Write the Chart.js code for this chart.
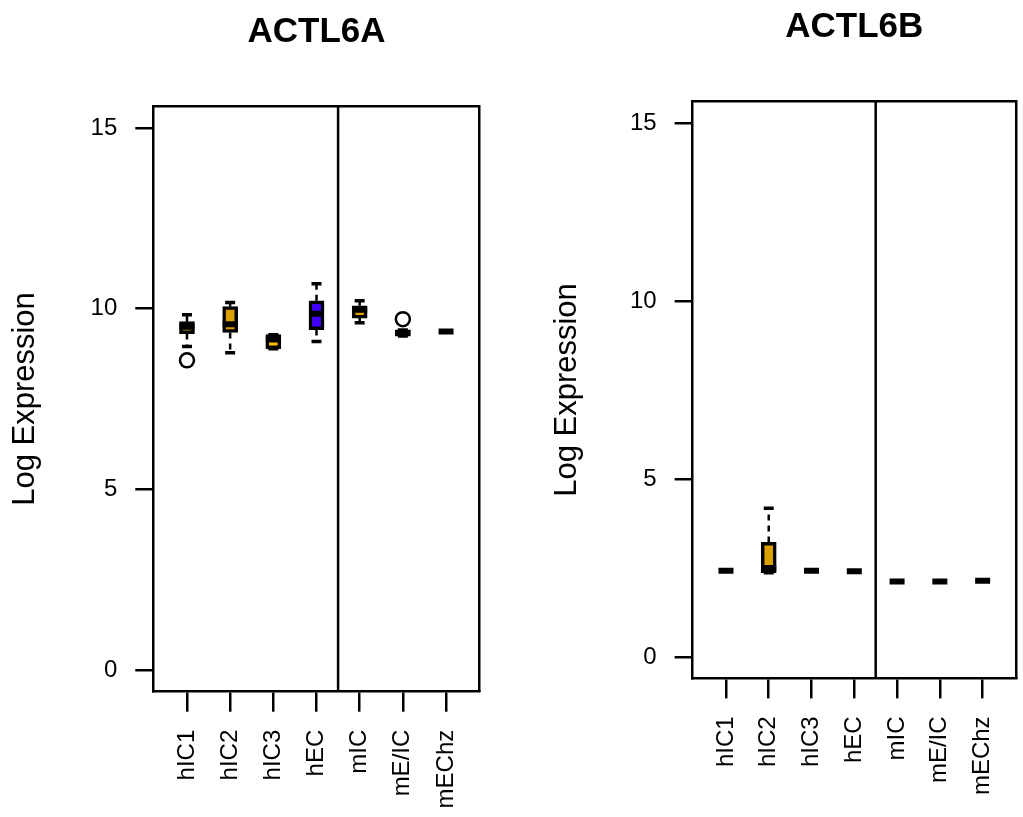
<!DOCTYPE html>
<html>
<head>
<meta charset="utf-8">
<title>ACTL6A / ACTL6B</title>
<script src="https://cdn.jsdelivr.net/npm/chart.js@4.4.1/dist/chart.umd.min.js"></script>
<style>
  html, body { margin: 0; background: #fff; overflow: hidden; }
  canvas { position: absolute; top: 0; }
</style>
</head>
<body>
<canvas id="chartA" width="500" height="817" style="left:0px"></canvas>
<canvas id="chartB" width="540" height="817" style="left:500px"></canvas>
<script>
// groups and box colours
const groups = ["hIC1", "hIC2", "hIC3", "hEC", "mIC", "mE/IC", "mEChz"];
const boxColors = ["#B8960B", "#DAA000", "#FFBF00", "#3F00FF", "#E0A000", "#8B7500", "#8B7500"];
const yTicks = [0, 5, 10, 15];
const splitAt = 4.5; // human | mouse

// ACTL6A
const aLo  = [8.95, 8.78, 8.89, 9.09, 9.61, 9.24, 9.37];
const aQ1  = [9.31, 9.34, 8.89, 9.42, 9.74, 9.24, 9.37];
const aMed = [9.50, 9.57, 9.15, 9.86, 9.97, 9.33, 9.37];
const aQ3  = [9.64, 10.06, 9.28, 10.22, 10.08, 9.41, 9.37];
const aHi  = [9.83, 10.17, 9.28, 10.69, 10.22, 9.41, 9.37];
const aOut = [[1, 8.57], [6, 9.71]];

// ACTL6B
const bLo  = [2.42, 2.37, 2.42, 2.41, 2.12, 2.12, 2.14];
const bQ1  = [2.42, 2.37, 2.42, 2.41, 2.12, 2.12, 2.14];
const bMed = [2.42, 2.50, 2.42, 2.41, 2.12, 2.12, 2.14];
const bQ3  = [2.42, 3.22, 2.42, 2.41, 2.12, 2.12, 2.14];
const bHi  = [2.42, 4.18, 2.42, 2.41, 2.12, 2.12, 2.14];
const bOut = [];

const FONT = "'Liberation Sans', Arial, Helvetica, sans-serif";
const yMin = -0.6, yMax = 15.6;

function makeChart(id, title, lo, q1, med, q3, hi, outliers, L) {
    const pos = groups.map((g, i) => i + 1);

    const boxes = pos.map((x, i) => ({ x: x, y: [q1[i], q3[i]] }));
    const medians = pos.map((x, i) => ({ x: x, y: med[i] }));
    const caps = pos.flatMap((x, i) => [{ x: x, y: lo[i] }, { x: x, y: hi[i] }]);
    const whiskers = pos.flatMap((x, i) => [
        { x: x, y: q3[i] }, { x: x, y: hi[i] }, { x: x, y: null },
        { x: x, y: q1[i] }, { x: x, y: lo[i] }, { x: x, y: null }
    ]);
    const outs = outliers.map(o => ({ x: o[0], y: o[1] }));

    new Chart(document.getElementById(id), {
        type: "bar",
        data: {
            datasets: [
                {
                    type: "line", data: [{ x: splitAt, y: yMin }, { x: splitAt, y: yMax }],
                    borderColor: "#000", borderWidth: 2.5, pointRadius: 0, order: 6
                },
                {
                    type: "line", data: whiskers, borderColor: "#000", borderWidth: 2.5,
                    borderDash: [6, 5], pointRadius: 0, spanGaps: false, order: 5
                },
                {
                    type: "bar", data: boxes, backgroundColor: boxColors, borderColor: "#000",
                    borderWidth: 3.5, borderSkipped: false, barThickness: 15, grouped: false, order: 4
                },
                {
                    type: "line", data: caps, showLine: false, pointStyle: "line",
                    pointRadius: 5, borderColor: "#000", pointBorderWidth: 3.5, order: 3
                },
                {
                    type: "line", data: medians, showLine: false, pointStyle: "line",
                    pointRadius: 7.5, borderColor: "#000", pointBorderWidth: 6, order: 2
                },
                {
                    type: "line", data: outs, showLine: false, pointStyle: "circle",
                    pointRadius: 7, pointBackgroundColor: "#fff", borderColor: "#000",
                    pointBorderWidth: 2.5, order: 1
                }
            ]
        },
        options: {
            responsive: false,
            animation: false,
            events: [],
            layout: { padding: { left: L.padLeft, right: L.padRight, top: 0, bottom: 0 } },
            plugins: {
                legend: { display: false },
                tooltip: { enabled: false },
                title: {
                    display: true, text: title, color: "#000", fullSize: false,
                    font: { family: FONT, size: 35, weight: "bold" },
                    padding: { top: L.titleTop, bottom: L.titleBottom }
                }
            },
            scales: {
                x: {
                    type: "linear", position: "bottom", min: 0.22, max: 7.78, offset: false,
                    afterBuildTicks: s => { s.ticks = pos.map(v => ({ value: v })); },
                    afterFit: s => { s.height = L.xHeight; },
                    ticks: {
                        callback: v => groups[v - 1], color: "#000", autoSkip: false,
                        minRotation: 90, maxRotation: 90, padding: 18,
                        font: { family: FONT, size: 24 }
                    },
                    grid: { drawOnChartArea: false, offset: false, tickLength: 20, color: "#000", lineWidth: 2.5 },
                    border: { display: true, color: "#000", width: 2.5 }
                },
                x2: {
                    type: "linear", position: "top", min: 0.22, max: 7.78,
                    afterFit: s => { s.height = 0; },
                    ticks: { display: false }, grid: { display: false },
                    border: { display: true, color: "#000", width: 2.5 }
                },
                y: {
                    type: "linear", position: "left", min: yMin, max: yMax,
                    afterBuildTicks: s => { s.ticks = yTicks.map(v => ({ value: v })); },
                    afterFit: s => { s.width = L.yWidth; },
                    ticks: { color: "#000", padding: 18, font: { family: FONT, size: 24 } },
                    grid: { drawOnChartArea: false, tickLength: 18, color: "#000", lineWidth: 2.5 },
                    border: { display: true, color: "#000", width: 2.5 },
                    title: {
                        display: true, text: "Log Expression", color: "#000",
                        font: { family: FONT, size: 31 }, padding: { top: 6.4, bottom: 0 }
                    }
                },
                y2: {
                    type: "linear", position: "right", min: yMin, max: yMax,
                    afterFit: s => { s.width = 0; },
                    ticks: { display: false }, grid: { display: false },
                    border: { display: true, color: "#000", width: 2.5 }
                }
            }
        }
    });
}

makeChart("chartA", "ACTL6A", aLo, aQ1, aMed, aQ3, aHi, aOut,
    { padLeft: 0, padRight: 20.3, yWidth: 153.3, xHeight: 125.3, titleTop: 11, titleBottom: 53.3 });
makeChart("chartB", "ACTL6B", bLo, bQ1, bMed, bQ3, bHi, bOut,
    { padLeft: 42, padRight: 24, yWidth: 150.6, xHeight: 138.6, titleTop: 6, titleBottom: 53.6 });
</script>
</body>
</html>
